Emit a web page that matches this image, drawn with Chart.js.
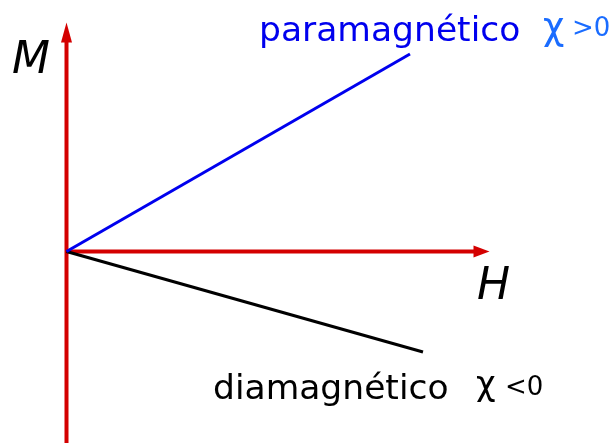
<!DOCTYPE html>
<html>
<head>
<meta charset="utf-8">
<script src="https://cdn.jsdelivr.net/npm/chart.js@4"></script>
<style>
  html, body { margin: 0; padding: 0; background: #fff; }
  #wrap { width: 611px; height: 443px; }
</style>
</head>
<body>
<div id="wrap"><canvas id="chart"></canvas></div>
<script>
// Data (field H on x, magnetisation M on y, arbitrary units)
const paraH = [0, 3.435];
const paraM = [0, 1.975];
const diaH = [0, 3.565];
const diaM = [0, -1.005];

// axis extents
const axisHEnd = 4.23;
const axisMEnd = 2.29;
const axisMStart = -1.92;

const labelPara = 'paramagnético';
const labelDia = 'diamagnético';

function toPoints(xs, ys) {
    return xs.map((x, i) => ({ x: x, y: ys[i] }));
}

// Draws the red axes with arrow heads
const axesPlugin = {
    id: 'axes',
    beforeDatasetsDraw(chart) {
        const ctx = chart.ctx;
        const xs = chart.scales.x, ys = chart.scales.y;
        const ox = xs.getPixelForValue(0), oy = ys.getPixelForValue(0);
        const xEnd = xs.getPixelForValue(axisHEnd);
        const yEnd = ys.getPixelForValue(axisMEnd);
        const yStart = ys.getPixelForValue(axisMStart);
        ctx.save();
        ctx.strokeStyle = '#d40000';
        ctx.fillStyle = '#d40000';
        ctx.lineWidth = 4;
        ctx.beginPath();
        ctx.moveTo(ox, yStart);
        ctx.lineTo(ox, yEnd + 15);
        ctx.moveTo(ox, oy);
        ctx.lineTo(xEnd - 12, oy);
        ctx.stroke();
        // arrow heads
        ctx.beginPath();
        ctx.moveTo(ox, yEnd);
        ctx.lineTo(ox - 5.5, yEnd + 20);
        ctx.lineTo(ox + 5.5, yEnd + 20);
        ctx.closePath();
        ctx.fill();
        ctx.beginPath();
        ctx.moveTo(xEnd, oy);
        ctx.lineTo(xEnd - 16, oy - 6);
        ctx.lineTo(xEnd - 16, oy + 6);
        ctx.closePath();
        ctx.fill();
        ctx.restore();
    }
};

// Axis letters and curve labels
const labelsPlugin = {
    id: 'labels',
    afterDatasetsDraw(chart) {
        const ctx = chart.ctx;
        ctx.save();
        ctx.textBaseline = 'alphabetic';
        ctx.fillStyle = '#000';
        ctx.font = 'italic 44px "DejaVu Sans"';
        ctx.fillText('M', 12, 73);
        ctx.fillText('H', 477, 299);

        ctx.font = '34.5px "DejaVu Sans"';
        ctx.fillStyle = '#0000ee';
        ctx.fillText(labelPara, 259, 41);
        ctx.fillStyle = '#1a6cff';
        ctx.font = '37px "DejaVu Sans"';
        ctx.fillText('χ', 543, 39);
        ctx.font = '26px "DejaVu Sans"';
        ctx.fillText('>0', 572, 36);

        ctx.font = '34.5px "DejaVu Sans"';
        ctx.fillStyle = '#000';
        ctx.fillText(labelDia, 213, 399);
        ctx.font = '34px "DejaVu Sans"';
        ctx.fillText('χ', 476, 395);
        ctx.font = '26px "DejaVu Sans"';
        ctx.fillText('<0', 505, 395);
        ctx.restore();
    }
};

new Chart(document.getElementById('chart'), {
    type: 'scatter',
    data: {
        datasets: [
            {
                label: labelPara,
                data: toPoints(paraH, paraM),
                showLine: true,
                borderColor: '#0000ee',
                borderWidth: 3,
                pointRadius: 0
            },
            {
                label: labelDia,
                data: toPoints(diaH, diaM),
                showLine: true,
                borderColor: '#000000',
                borderWidth: 3,
                pointRadius: 0
            }
        ]
    },
    options: {
        responsive: true,
        maintainAspectRatio: false,
        animation: false,
        layout: { padding: 0 },
        scales: {
            x: { type: 'linear', display: false, min: -0.665, max: 5.445 },
            y: { type: 'linear', display: false, min: -1.915, max: 2.515 }
        },
        plugins: {
            legend: { display: false },
            tooltip: { enabled: false }
        }
    },
    plugins: [axesPlugin, labelsPlugin]
});
</script>
</body>
</html>
